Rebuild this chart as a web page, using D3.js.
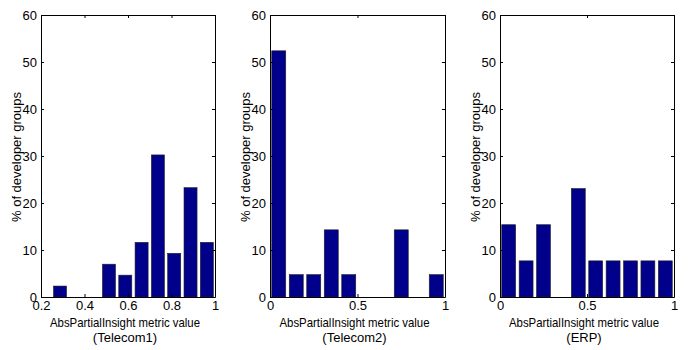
<!DOCTYPE html>
<html>
<head>
<meta charset="utf-8">
<script src="https://cdn.jsdelivr.net/npm/d3@7"></script>
<style>
  body { margin: 0; background: #fff; }
  text { font-family: "Liberation Sans", Arial, sans-serif; fill: #000; }
</style>
</head>
<body>
<svg id="chart"></svg>
<script>
// bin centres and % of developer groups for each system
const telecom1Centers = [0.2875, 0.3625, 0.4375, 0.5125, 0.5875, 0.6625, 0.7375, 0.8125, 0.8875, 0.9625];
const telecom1Values = [2.33, 0, 0, 6.98, 4.65, 11.63, 30.23, 9.30, 23.26, 11.63];

const telecom2Centers = [0.05, 0.15, 0.25, 0.35, 0.45, 0.55, 0.65, 0.75, 0.85, 0.95];
const telecom2Values = [52.38, 4.76, 4.76, 14.29, 4.76, 0, 0, 14.29, 0, 4.76];

const erpCenters = [0.05, 0.15, 0.25, 0.35, 0.45, 0.55, 0.65, 0.75, 0.85, 0.95];
const erpValues = [15.38, 7.69, 15.38, 0, 23.08, 7.69, 7.69, 7.69, 7.69, 7.69];

const yTicks = [0, 10, 20, 30, 40, 50, 60];
const xTicks1 = [0.2, 0.4, 0.6, 0.8, 1];
const xTicks23 = [0, 0.5, 1];

const yLabel = "% of developer groups";
const xLabel = "AbsPartialInsight metric value";

const panels = [
  { name: "(Telecom1)", centers: telecom1Centers, values: telecom1Values, domain: [0.2, 1], ticks: xTicks1, binW: 0.075, left: 41, right: 215 },
  { name: "(Telecom2)", centers: telecom2Centers, values: telecom2Values, domain: [0, 1], ticks: xTicks23, binW: 0.1, left: 270, right: 445 },
  { name: "(ERP)", centers: erpCenters, values: erpValues, domain: [0, 1], ticks: xTicks23, binW: 0.1, left: 500, right: 674 }
];

const width = 688, height = 350;
const plotTop = 15, plotBottom = 297;
const svg = d3.select("#chart").attr("width", width).attr("height", height);

const y = d3.scaleLinear().domain([0, 60]).range([plotBottom, plotTop]);

panels.forEach(p => {
  const x = d3.scaleLinear().domain(p.domain).range([p.left, p.right]);
  const g = svg.append("g");

  // bars
  g.selectAll("rect.bar")
    .data(p.values.map((v, i) => ({ c: p.centers[i], v: v })).filter(d => d.v > 0))
    .enter().append("rect")
    .attr("class", "bar")
    .attr("x", d => x(d.c - p.binW * 0.4))
    .attr("width", d => x(d.c + p.binW * 0.4) - x(d.c - p.binW * 0.4))
    .attr("y", d => y(d.v))
    .attr("height", d => y(0) - y(d.v))
    .attr("fill", "#00008b")
    .attr("stroke", "#222")
    .attr("stroke-width", 0.6);

  // box with inward ticks on all sides
  const tl = 3;
  g.append("g").attr("transform", `translate(0,${plotBottom})`)
    .call(d3.axisBottom(x).tickValues(p.ticks).tickSizeInner(-tl).tickSizeOuter(0).tickPadding(4)
      .tickFormat(d => d3.format("~g")(d)));
  g.append("g").attr("transform", `translate(0,${plotTop})`)
    .call(d3.axisTop(x).tickValues(p.ticks).tickSizeInner(-tl).tickSizeOuter(0).tickFormat(""));
  g.append("g").attr("transform", `translate(${p.left},0)`)
    .call(d3.axisLeft(y).tickValues(yTicks).tickSizeInner(-tl).tickSizeOuter(0).tickPadding(4));
  g.append("g").attr("transform", `translate(${p.right},0)`)
    .call(d3.axisRight(y).tickValues(yTicks).tickSizeInner(-tl).tickSizeOuter(0).tickFormat(""));

  g.selectAll(".domain").attr("stroke", "#000").attr("stroke-width", 1);
  g.selectAll(".tick line").attr("stroke", "#000");
  g.selectAll(".tick text").style("font-size", "13px").style("font-family", "'Liberation Sans', Arial, sans-serif");

  // labels
  g.append("text")
    .attr("transform", `translate(${p.left - 20},${(plotTop + plotBottom) / 2 + 1}) rotate(-90)`)
    .attr("text-anchor", "middle")
    .attr("textLength", 130)
    .attr("lengthAdjust", "spacingAndGlyphs")
    .style("font-size", "13px")
    .text(yLabel);
  g.append("text")
    .attr("x", (p.left + p.right) / 2 - 3)
    .attr("y", 327)
    .attr("text-anchor", "middle")
    .attr("textLength", 150)
    .attr("lengthAdjust", "spacingAndGlyphs")
    .style("font-size", "13px")
    .text(xLabel);
  g.append("text")
    .attr("x", (p.left + p.right) / 2 - 3)
    .attr("y", 342)
    .attr("text-anchor", "middle")
    .style("font-size", "13px")
    .text(p.name);
});
</script>
</body>
</html>
